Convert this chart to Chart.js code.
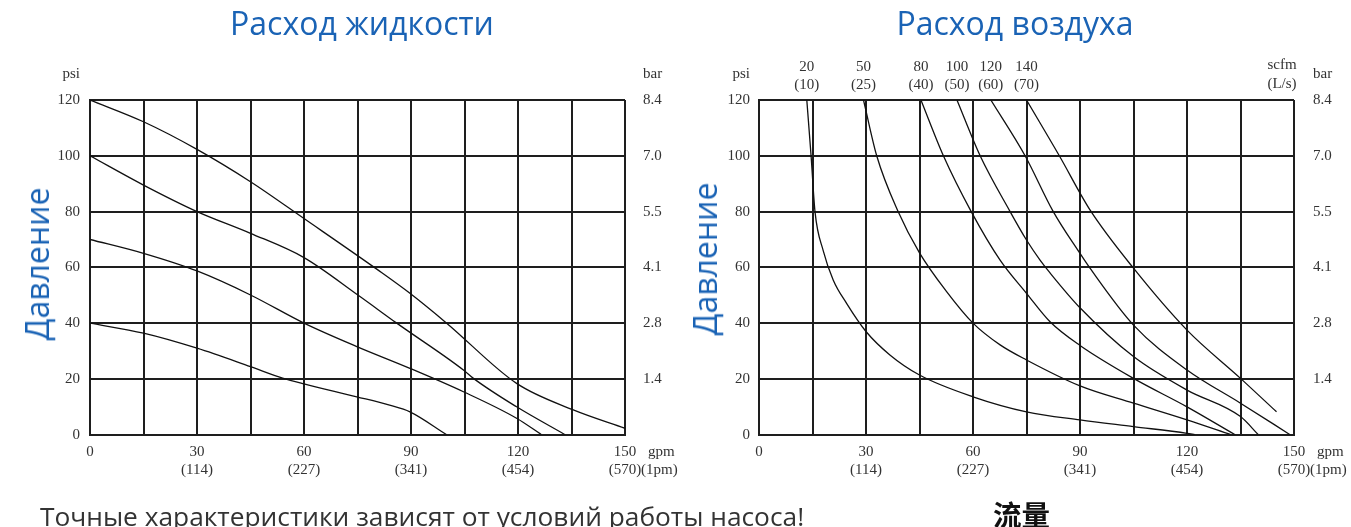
<!DOCTYPE html>
<html>
<head>
<meta charset="utf-8">
<script src="https://cdn.jsdelivr.net/npm/chart.js@4.4.1/dist/chart.umd.min.js"></script>
<style>
body{margin:0;width:1351px;height:527px;overflow:hidden;background:#fff;position:relative;font-family:'Open Sans',sans-serif}
canvas{position:absolute;top:0}
.title{position:absolute;top:7px;color:#1a63b5;font-size:32px;line-height:32px;white-space:nowrap;transform:translateX(-50%)}
.vlabel{position:absolute;color:#1a63b5;font-size:32px;line-height:32px;white-space:nowrap;transform:translate(-50%,-50%) rotate(-90deg)}
.note{position:absolute;left:40px;top:502px;color:#333;font-size:26.3px;line-height:28px;white-space:nowrap}
.cjk{position:absolute;left:993px;top:499px;color:#111;font-family:'Noto Sans CJK SC',sans-serif;font-weight:700;font-size:28.5px;line-height:30px}
</style>
</head>
<body>
<canvas id="liquid" width="680" height="527" style="left:0"></canvas>
<canvas id="air" width="671" height="527" style="left:680px"></canvas>
<div class="title" style="left:362px">Расход жидкости</div>
<div class="title" style="left:1015px">Расход воздуха</div>
<div class="vlabel" style="left:37px;top:264px">Давление</div>
<div class="vlabel" style="left:705px;top:259px">Давление</div>
<div class="note">Точные характеристики зависят от условий работы насоса!</div>
<div class="cjk">流量</div>
<script>
// axes
var flowTicks = [0, 30, 60, 90, 120, 150];
var gpmLabels = ['0', '30', '60', '90', '120', '150'];
var lpmLabels = ['', '(114)', '(227)', '(341)', '(454)', '(570)'];
var psiTicks = [0, 20, 40, 60, 80, 100, 120];
var barLabels = ['', '1.4', '2.8', '4.1', '5.5', '7.0', '8.4'];

// liquid flow curves [gpm, psi]
var liq120 = [[0,120],[15,112.2],[30,102.3],[45,90.7],[60,77.5],[80.8,59],[89.7,50.7],[100,40],[119.6,18.4],[135.5,8.9],[150,2.3]];
var liq100 = [[0,100],[15,89.5],[30,80],[45,72.2],[60,63.5],[75.2,50],[86,40],[104.7,23.2],[107.5,20.2],[119.6,10],[133.2,0]];
var liq70 = [[0,70],[15,65],[30,58.7],[45,50.1],[60,40],[74.8,31.6],[89.7,23.8],[104.7,15.4],[119.6,5.9],[126.6,0]];
var liq40 = [[0,40],[15,36.4],[30,31],[45,24.4],[54,20.3],[60,18.2],[74.8,13.6],[84,10.6],[89.7,8.2],[100,0]];

// air consumption curves [gpm, psi]
var air20 = [[13.4,120],[14.6,100],[15.7,80],[18,66],[20.8,55.5],[24.6,47],[30,37],[36.7,28.6],[45,21.4],[60,13.6],[75,8.2],[90,5.3],[105,2.9],[120,0.5],[122.2,0]];
var air50 = [[29.3,120],[33,100],[39,80],[45,65.2],[52.6,51.3],[60,40],[67.6,32.2],[75,26.8],[90,17.5],[105,11.3],[120,5.3],[132.3,0]];
var air80 = [[45.4,120],[51.7,100],[59.5,80],[67.6,62.6],[75,50.7],[81.6,40.5],[90,32],[105,20.2],[120,10],[133.5,0]];
var air100 = [[55.5,120],[62,100],[70.4,80],[75,69.8],[78.8,62.6],[81.6,58],[90,45.5],[105,28],[120,16],[135,6.5],[140,0]];
var air120 = [[65,120],[74.6,100],[82.5,80],[90,65],[92.8,59.7],[105,39.3],[120,23.2],[135,11.3],[148.9,0]];
var air140 = [[75,120],[84.2,100],[92.8,80.6],[105,59.7],[120,37.5],[135,20.2],[145.1,8.2]];

// curve labels on top of air chart
var airStart = [13.4, 29.3, 45.4, 55.5, 65, 75];
var scfmLabels = ['20', '50', '80', '100', '120', '140'];
var lpsLabels = ['(10)', '(25)', '(40)', '(50)', '(60)', '(70)'];

var gridColor = '#1e1e1e';
var tickFont = { family: "'Liberation Serif', 'DejaVu Serif', serif", size: 15, lineHeight: 1.2 };

function curve(points) {
    return {
        data: points.map(function (p) { return { x: p[0], y: p[1] }; }),
        showLine: true,
        borderColor: '#111',
        borderWidth: 1.3,
        pointRadius: 0,
        fill: false,
        cubicInterpolationMode: 'monotone'
    };
}

function flowLabel(v) {
    var i = flowTicks.indexOf(v);
    if (i < 0) return '';
    return lpmLabels[i] ? [gpmLabels[i], lpmLabels[i]] : gpmLabels[i];
}

var unitsPlugin = {
    id: 'units',
    afterDraw: function (chart, args, opts) {
        var ctx = chart.ctx, a = chart.chartArea;
        var x150 = chart.scales.x.getPixelForValue(150);
        ctx.save();
        ctx.fillStyle = '#333';
        ctx.font = "15px 'Liberation Serif', serif";
        ctx.textBaseline = 'middle';
        ctx.textAlign = 'right';
        ctx.fillText('psi', a.left - opts.psiGap, 74);
        ctx.textAlign = 'left';
        ctx.fillText('bar', a.right + opts.barGap, 74);
        ctx.fillText('gpm', x150 + 23, a.bottom + 17);
        ctx.fillText('(1pm)', x150 + 16, a.bottom + 35);
        if (opts.scfm) {
            ctx.textAlign = 'center';
            ctx.fillText('scfm', a.right - 12, 65);
            ctx.fillText('(L/s)', a.right - 12, 84);
        }
        ctx.restore();
    }
};

function makeOptions(leftW, rightW, padTop, psiGap, barGap, withTop) {
    var scales = {
        x: {
            type: 'linear', min: 0, max: 150,
            ticks: { stepSize: 15, autoSkip: false, maxRotation: 0, padding: 8, color: '#333', font: tickFont, callback: flowLabel },
            grid: { color: gridColor, lineWidth: 2, drawTicks: false },
            border: { color: gridColor, width: 2 },
            afterFit: function (s) { s.height = 50; }
        },
        y: {
            min: 0, max: 120,
            ticks: { stepSize: 20, padding: psiGap, color: '#333', font: tickFont },
            grid: { color: gridColor, lineWidth: 2, drawTicks: false },
            border: { color: gridColor, width: 2 },
            afterFit: function (s) { s.width = leftW; }
        },
        y2: {
            position: 'right', min: 0, max: 120,
            ticks: { stepSize: 20, padding: barGap, color: '#333', font: tickFont,
                callback: function (v) { var i = psiTicks.indexOf(v); return i < 0 ? '' : barLabels[i]; } },
            grid: { display: false, drawTicks: false },
            border: { display: false },
            afterFit: function (s) { s.width = rightW; }
        }
    };
    if (withTop) {
        scales.x2 = {
            type: 'linear', position: 'top', min: 0, max: 150,
            afterBuildTicks: function (s) { s.ticks = airStart.map(function (v) { return { value: v }; }); },
            ticks: { autoSkip: false, maxRotation: 0, padding: 6, color: '#333', font: tickFont,
                callback: function (v, i) { return [scfmLabels[i], lpsLabels[i]]; } },
            grid: { display: false, drawTicks: false },
            border: { display: false },
            afterFit: function (s) { s.height = 60; }
        };
    }
    return {
        responsive: false,
        animation: false,
        devicePixelRatio: 1,
        layout: { padding: { top: padTop, bottom: 42.3, left: 0, right: 0 } },
        plugins: {
            legend: { display: false },
            tooltip: { enabled: false },
            units: { psiGap: psiGap, barGap: barGap, scfm: withTop }
        },
        scales: scales
    };
}

new Chart(document.getElementById('liquid').getContext('2d'), {
    type: 'scatter',
    data: { datasets: [curve(liq120), curve(liq100), curve(liq70), curve(liq40)] },
    options: makeOptions(90, 55, 100, 10, 18, false),
    plugins: [unitsPlugin]
});

new Chart(document.getElementById('air').getContext('2d'), {
    type: 'scatter',
    data: { datasets: [curve(air20), curve(air50), curve(air80), curve(air100), curve(air120), curve(air140)] },
    options: makeOptions(79, 57, 40, 9, 19, true),
    plugins: [unitsPlugin]
});
</script>
</body>
</html>
